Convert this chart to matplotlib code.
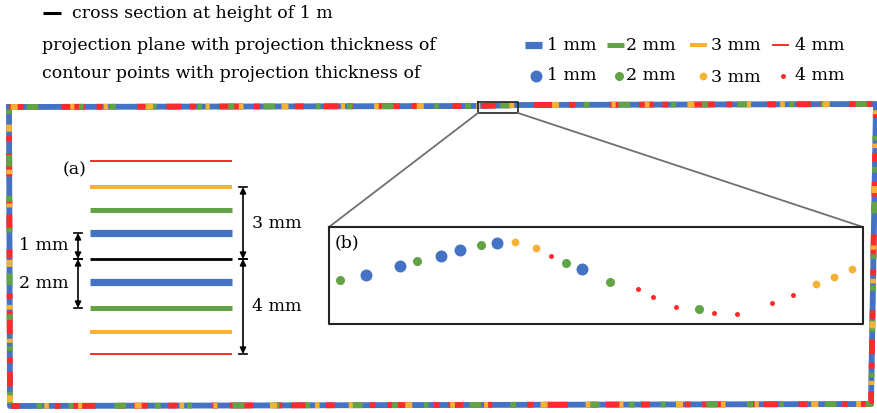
import numpy as np
import matplotlib
matplotlib.use("Agg")
import matplotlib.pyplot as plt

plt.rcParams["font.family"] = ["DejaVu Serif"]

THICK = ["1 mm", "2 mm", "3 mm", "4 mm"]
COLORS = ["#4472C4", "#62A345", "#F7B233", "#FF2B2B"]
LINE_W = [5.2, 3.6, 2.9, 1.4]      # plane line widths (pt)
DOT_MS = [8.6, 6.5, 5.6, 3.6]      # contour dot sizes (pt)

# panel (a): projection planes, top to bottom (index into THICK, -1 = cross section)
plane_kind = [3, 2, 1, 0, -1, 0, 1, 2, 3]
plane_y = [161, 187, 210, 233, 259, 282, 308, 332, 354]

# panel (b): contour points in the zoomed window
pt_x = [340, 366, 400, 417, 441, 460, 481, 497, 515, 536, 551, 566, 582,
        610, 638, 653, 676, 699, 714, 737, 772, 793, 816, 834, 852]
pt_y = [280, 275, 266, 261, 256, 250, 245, 243, 242, 248, 256, 263, 269,
        282, 289, 297, 307, 309, 313, 314, 303, 295, 284, 277, 269]
pt_kind = [1, 0, 0, 1, 0, 0, 1, 0, 2, 2, 3, 1, 0,
           1, 3, 3, 3, 1, 3, 3, 3, 3, 2, 2, 2]

# outer contour (corners of the slice outline)
border_x = [9, 477, 520, 876, 871, 10, 9]
border_y = [107, 106, 105, 104, 404, 406, 107]

fig = plt.figure(figsize=(8.78, 4.13), dpi=100)
ax = fig.add_axes([0, 0, 1, 1])
ax.set_xlim(0, 878)
ax.set_ylim(413, 0)
ax.axis("off")

FS = 12.5

# ---- legend block at top ----
ax.plot([43, 61], [13, 13], color="black", lw=2.2, solid_capstyle="butt")
ax.text(72, 14, "cross section at height of 1 m", fontsize=FS, va="center")
ax.text(42, 45, "projection plane with projection thickness of", fontsize=FS, va="center")
ax.text(42, 74, "contour points with projection thickness of", fontsize=FS, va="center")

leg_line_x = [525, 607, 690, 772]
leg_text_x = [547, 626, 711, 795]
leg_dot_x = [536, 619, 703, 783]
for i in range(4):
    ax.plot([leg_line_x[i], leg_line_x[i] + 17], [45, 45], color=COLORS[i],
            lw=LINE_W[i], solid_capstyle="butt")
    ax.text(leg_text_x[i], 45, THICK[i], fontsize=FS, va="center")
    ax.plot(leg_dot_x[i], 76, "o", color=COLORS[i], ms=DOT_MS[i], mec="none")
    ax.text(leg_text_x[i], 76 + (2 if i == 2 else 0), THICK[i], fontsize=FS, va="center")

# ---- outer contour, multicoloured dots ----
ax.plot(border_x, border_y, color=COLORS[0], lw=4.2, solid_joinstyle="round")
ax.plot(border_x, border_y, color=COLORS[3], lw=4.2,
        ls=(0, (2.5, 1.5, 1.0, 4.0, 4.0, 2.0, 1.0, 6.0, 1.5, 3.5)))
ax.plot(border_x, border_y, color=COLORS[1], lw=4.2,
        ls=(3.0, (1.0, 5.0, 2.0, 7.0, 0.8, 4.5)))
ax.plot(border_x, border_y, color=COLORS[2], lw=4.2,
        ls=(7.0, (0.8, 6.5, 1.2, 9.0, 0.7, 5.0)))

# ---- panel (a) ----
for k, y in zip(plane_kind, plane_y):
    if k < 0:
        ax.plot([90, 232], [y, y], color="black", lw=2.0, solid_capstyle="butt")
    else:
        ax.plot([90, 232], [y, y], color=COLORS[k], lw=LINE_W[k], solid_capstyle="butt")
ax.text(87, 170, "(a)", fontsize=FS, ha="right", va="center")


def dim_arrow(x, y0, y1, label, side):
    ax.annotate("", xy=(x, y1), xytext=(x, y0),
                arrowprops=dict(arrowstyle="<|-|>", color="black", lw=1.2,
                                mutation_scale=9, shrinkA=0, shrinkB=0))
    for y in (y0, y1):
        ax.plot([x - 4, x + 4], [y, y], color="black", lw=1.2)
    ym = (y0 + y1) / 2
    if side == "right":
        ax.text(x + 9, ym, label, fontsize=FS, ha="left", va="center")
    else:
        ax.text(x - 9, ym, label, fontsize=FS, ha="right", va="center")


dim_arrow(243, 187, 259, "3 mm", "right")
dim_arrow(243, 259, 354, "4 mm", "right")
dim_arrow(78, 233, 259, "1 mm", "left")
dim_arrow(78, 259, 308, "2 mm", "left")

# ---- zoom window and panel (b) ----
ax.plot([478, 518, 518, 478, 478], [102, 102, 113, 113, 102], color="#222222", lw=1.2)
ax.plot([478, 329], [113, 227], color="#707070", lw=1.3)
ax.plot([518, 863], [113, 227], color="#707070", lw=1.3)
ax.plot([329, 863, 863, 329, 329], [227, 227, 324, 324, 227], color="#222222", lw=1.5)
ax.text(335, 243, "(b)", fontsize=FS, ha="left", va="center")

for x, y, k in zip(pt_x, pt_y, pt_kind):
    ax.plot(x, y, "o", color=COLORS[k], ms=DOT_MS[k], mec="none")

fig.savefig("out.png", dpi=100)
